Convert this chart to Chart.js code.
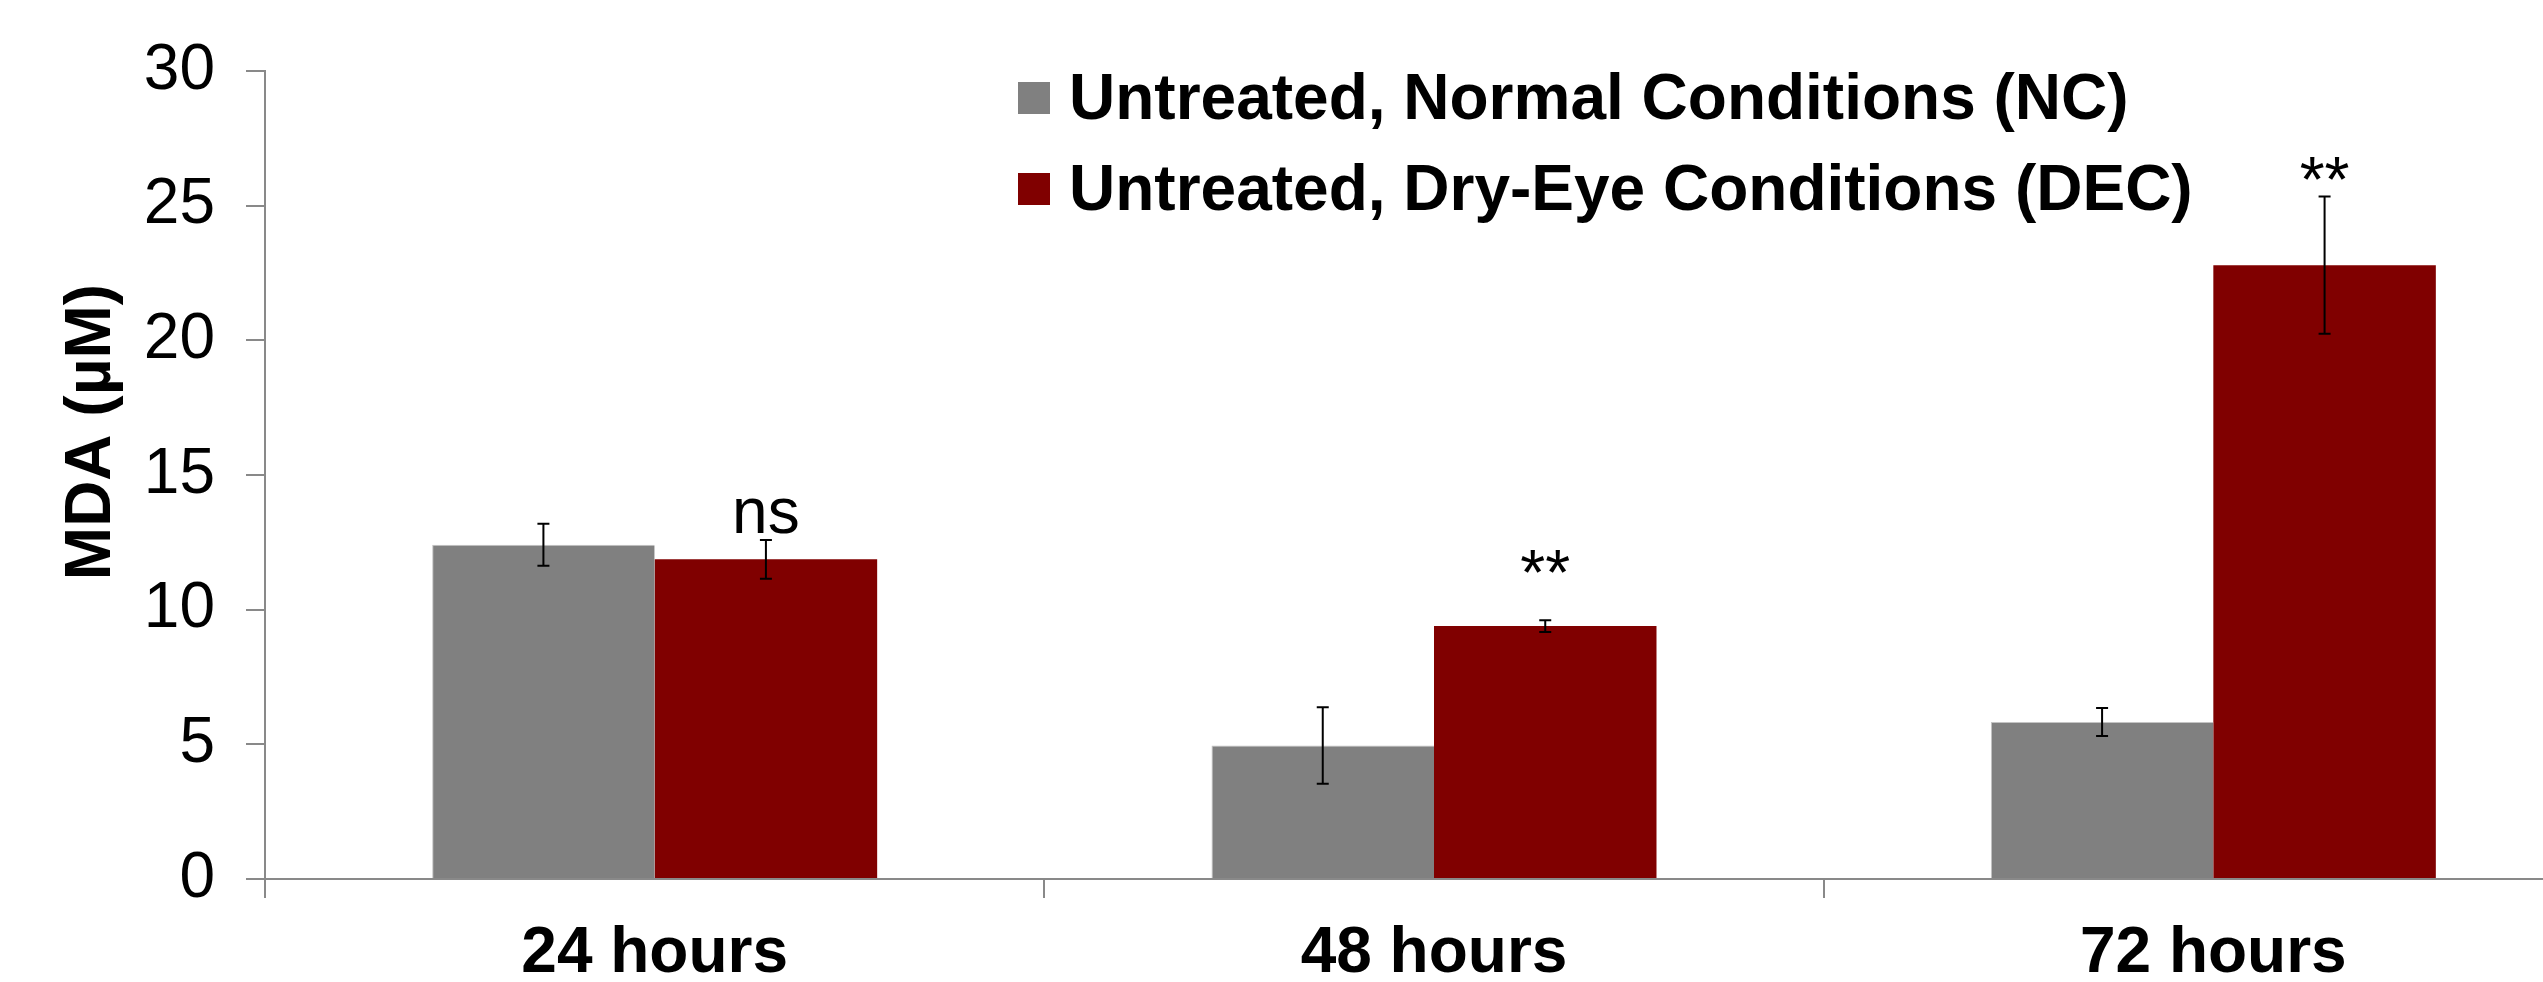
<!DOCTYPE html>
<html>
<head>
<meta charset="utf-8">
<title>MDA</title>
<script src="https://cdn.jsdelivr.net/npm/chart.js@4.4.0/dist/chart.umd.min.js"></script>
<style>
	html, body { margin: 0; padding: 0; background: #fff; overflow: hidden; }
	#wrap { position: relative; width: 2543px; height: 982px; overflow: hidden; }
	#mdaChart { position: absolute; left: 0; top: 0; }
</style>
</head>
<body>
<div id="wrap"><canvas id="mdaChart" width="2620" height="982"></canvas></div>
<script>

var categories = ['24 hours', '48 hours', '72 hours'];
var seriesNames = ['Untreated, Normal Conditions (NC)', 'Untreated, Dry-Eye Conditions (DEC)'];

var ncValues = [12.41, 4.96, 5.83];
var ncErrors = [0.78, 1.42, 0.52];
var decValues = [11.87, 9.39, 22.79];
var decErrors = [0.72, 0.22, 2.55];

//Marcas de significación sobre las barras DEC, y nivel (en µM) de su línea base
var sigLabels = ['ns', '**', '**'];
var sigLevels = [12.84, 10.54, 25.12];

var yTicks = [0, 5, 10, 15, 20, 25, 30];
var yTitle = 'MDA (µM)';

var FONT = '"Liberation Sans", Arial, Helvetica, sans-serif';
var AXIS_GREY = '#898989';

//Barras de error (media ± desviación)
var errorBars = {
	id: 'errorBars',
	afterDatasetsDraw: function(chart) {
		var ctx = chart.ctx;
		var y = chart.scales.y;
		ctx.save();
		ctx.strokeStyle = '#000';
		ctx.lineWidth = 2;
		chart.data.datasets.forEach(function(ds, i) {
			var meta = chart.getDatasetMeta(i);
			meta.data.forEach(function(bar, j) {
				var top = y.getPixelForValue(ds.data[j] + ds.errors[j]);
				var bot = y.getPixelForValue(ds.data[j] - ds.errors[j]);
				ctx.beginPath();
				ctx.moveTo(bar.x, top);
				ctx.lineTo(bar.x, bot);
				ctx.moveTo(bar.x - 6, top);
				ctx.lineTo(bar.x + 6, top);
				ctx.moveTo(bar.x - 6, bot);
				ctx.lineTo(bar.x + 6, bot);
				ctx.stroke();
			});
		});
		ctx.restore();
	}
};

//Textos ns / ** encima de la serie DEC
var sigMarks = {
	id: 'sigMarks',
	afterDatasetsDraw: function(chart) {
		var ctx = chart.ctx;
		var y = chart.scales.y;
		var meta = chart.getDatasetMeta(1);
		ctx.save();
		ctx.fillStyle = '#000';
		ctx.font = '64px ' + FONT;
		ctx.textAlign = 'center';
		ctx.textBaseline = 'alphabetic';
		for (var j = 0; j < sigLabels.length; j++) {
			ctx.fillText(sigLabels[j], meta.data[j].x, y.getPixelForValue(sigLevels[j]));
		}
		ctx.restore();
	}
};

//Leyenda dentro del área del gráfico, una serie por fila
var boxLegend = {
	id: 'boxLegend',
	afterDraw: function(chart) {
		var ctx = chart.ctx;
		ctx.save();
		ctx.font = 'bold 64px ' + FONT;
		ctx.textAlign = 'left';
		ctx.textBaseline = 'alphabetic';
		chart.data.datasets.forEach(function(ds, i) {
			ctx.fillStyle = ds.backgroundColor;
			ctx.fillRect(1018, 82 + i * 91, 32, 32);
			ctx.fillStyle = '#000';
			ctx.fillText(ds.label, 1069, 119 + i * 91);
		});
		ctx.restore();
	}
};

//Título del eje Y (algo por encima del centro del eje, como en el original)
var yAxisTitle = {
	id: 'yAxisTitle',
	afterDraw: function(chart) {
		var ctx = chart.ctx;
		ctx.save();
		ctx.translate(92, 432);
		ctx.rotate(-Math.PI / 2);
		ctx.font = 'bold 64px ' + FONT;
		ctx.fillStyle = '#000';
		ctx.textAlign = 'center';
		ctx.textBaseline = 'middle';
		ctx.fillText(yTitle, 0, 0);
		ctx.restore();
	}
};

var data = {
	labels: categories,
	datasets: [
		{
			label: seriesNames[0],
			data: ncValues,
			errors: ncErrors,
			backgroundColor: '#808080',
			borderColor: '#c4c4c4',
			borderWidth: { top: 1, left: 1, right: 0, bottom: 0 },
			borderSkipped: false,
			categoryPercentage: 0.571,
			barPercentage: 1.0
		},
		{
			label: seriesNames[1],
			data: decValues,
			errors: decErrors,
			backgroundColor: '#800000',
			borderWidth: 0,
			categoryPercentage: 0.571,
			barPercentage: 1.0
		}
	]
};

var options = {
	responsive: false,
	animation: false,
	devicePixelRatio: 1,
	layout: {
		padding: { top: 71, right: 17, bottom: 0, left: 0 }
	},
	plugins: {
		legend: { display: false },
		tooltip: { enabled: false }
	},
	scales: {
		x: {
			offset: true,
			grid: {
				offset: true,
				drawOnChartArea: false,
				drawTicks: true,
				tickLength: 19,
				color: AXIS_GREY,
				lineWidth: 2
			},
			border: { display: true, color: AXIS_GREY, width: 2 },
			ticks: {
				color: '#000',
				padding: 18,
				font: { family: FONT, size: 64, weight: 'bold' }
			},
			afterFit: function(scale) {
				scale.height = 103;
			}
		},
		y: {
			min: yTicks[0],
			max: yTicks[yTicks.length - 1],
			grid: {
				drawOnChartArea: false,
				drawTicks: true,
				tickLength: 19,
				color: AXIS_GREY,
				lineWidth: 2
			},
			border: { display: true, color: AXIS_GREY, width: 2 },
			ticks: {
				stepSize: yTicks[1] - yTicks[0],
				color: '#000',
				padding: 31,
				font: { family: FONT, size: 64 }
			},
			afterFit: function(scale) {
				scale.width = 265;
			}
		}
	}
};

var ctx = document.getElementById('mdaChart').getContext('2d');
var chart = new Chart(ctx, {
	type: 'bar',
	data: data,
	options: options,
	plugins: [errorBars, sigMarks, boxLegend, yAxisTitle]
});

</script>
</body>
</html>
